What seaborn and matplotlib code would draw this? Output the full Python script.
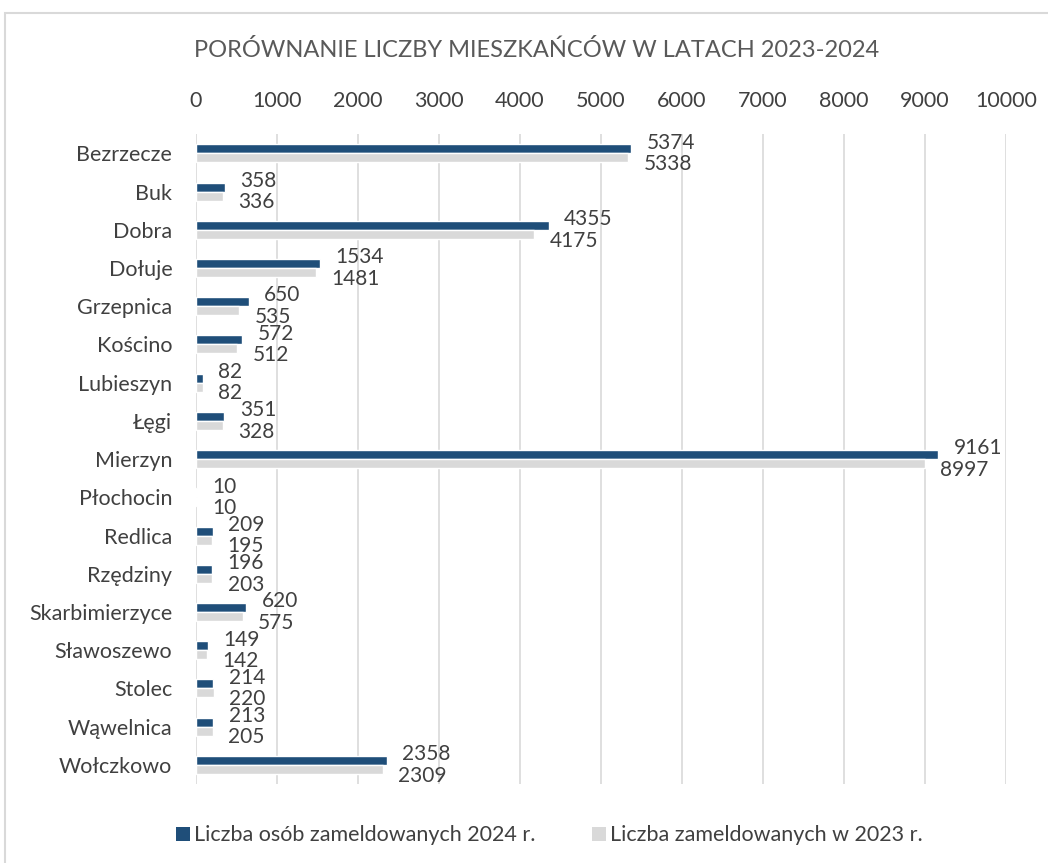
import matplotlib
matplotlib.use("Agg")
import matplotlib.pyplot as plt
import seaborn as sns
import pandas as pd
from matplotlib.patches import Rectangle, Patch

categories = ["Bezrzecze", "Buk", "Dobra", "Dołuje", "Grzepnica", "Kościno", "Lubieszyn",
              "Łęgi", "Mierzyn", "Płochocin", "Redlica", "Rzędziny", "Skarbimierzyce",
              "Sławoszewo", "Stolec", "Wąwelnica", "Wołczkowo"]
values_2024 = [5374, 358, 4355, 1534, 650, 572, 82, 351, 9161, 10, 209, 196, 620, 149, 214, 213, 2358]
values_2023 = [5338, 336, 4175, 1481, 535, 512, 82, 328, 8997, 10, 195, 203, 575, 142, 220, 205, 2309]
series_names = ["Liczba osób zameldowanych 2024 r.", "Liczba zameldowanych w 2023 r."]
x_ticks = [0, 1000, 2000, 3000, 4000, 5000, 6000, 7000, 8000, 9000, 10000]
title = "PORÓWNANIE LICZBY MIESZKAŃCÓW W LATACH 2023-2024"

BLUE = "#1F4E79"
GRAY = "#D9D9D9"
TXT = "#404040"
FS = 15

sns.set_theme(style="white")
plt.rcParams["font.family"] = ["Lato", "DejaVu Sans"]

df = pd.DataFrame({
    "cat": categories * 2,
    "val": values_2024 + values_2023,
    "series": [series_names[0]] * len(categories) + [series_names[1]] * len(categories),
})

fig = plt.figure(figsize=(10.48, 8.63), dpi=100)
ax = fig.add_axes([0.187, 0.0915, 0.773, 0.753])

sns.barplot(data=df, y="cat", x="val", hue="series", hue_order=series_names,
            palette=[BLUE, GRAY], orient="h", width=0.47, ax=ax, legend=False,
            saturation=1, errorbar=None)

ax.set_xlim(0, 10000)
ax.set_xticks(x_ticks)
ax.set_xticklabels([str(t) for t in x_ticks])
ax.xaxis.tick_top()
ax.tick_params(axis="x", length=0, pad=17, labelsize=FS + 0.5, labelcolor=TXT)
ax.tick_params(axis="y", length=0, pad=17, labelsize=FS + 0.5, labelcolor=TXT)
ax.set_xlabel("")
ax.set_ylabel("")
for s in ax.spines.values():
    s.set_visible(False)
ax.grid(axis="x", color="#D9D9D9", linewidth=1.2)
ax.set_axisbelow(True)

# value labels
for cont, offs in zip(ax.containers, [4.5, -4.5]):
    for bar, v in zip(cont, cont.datavalues):
        y = bar.get_y() + bar.get_height() / 2
        ax.annotate(f"{int(v)}", xy=(bar.get_width(), y), xytext=(11, offs),
                    textcoords="offset points", ha="left", va="center",
                    fontsize=FS, color=TXT)

fig.text(0.512, 0.942, title, ha="center", va="center", fontsize=17, color="#595959")

handles = [Patch(facecolor=BLUE, edgecolor="none"), Patch(facecolor=GRAY, edgecolor="none")]
fig.legend(handles, series_names, loc="center", bbox_to_anchor=(0.524, 0.032), ncol=2,
           frameon=False, fontsize=FS + 0.5, labelcolor=TXT, handlelength=0.65, handleheight=0.65,
           handletextpad=0.2, columnspacing=2.6)

fig.patches.append(Rectangle((5 / 1048, -0.05), 1.2, 1 - 13 / 863 + 0.05,
                             transform=fig.transFigure, fill=False,
                             edgecolor="#D9D9D9", linewidth=1.5))

fig.savefig("out.png", dpi=100, facecolor="white")
